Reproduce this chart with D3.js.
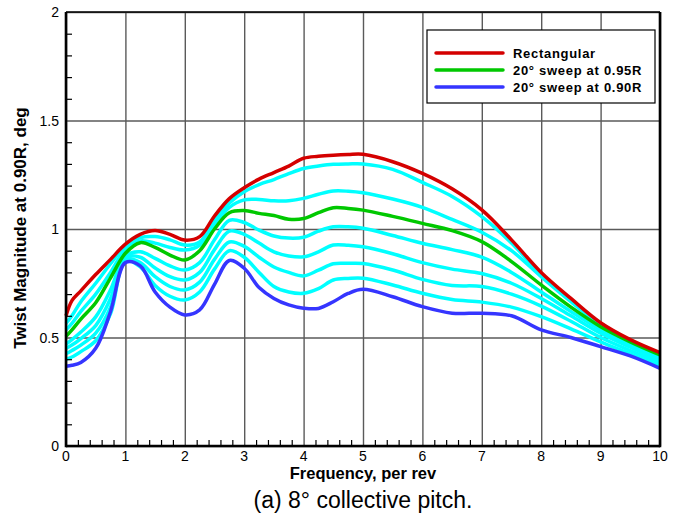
<!DOCTYPE html>
<html>
<head>
<meta charset="utf-8">
<script src="https://cdn.jsdelivr.net/npm/d3@7"></script>
<style>
  body { margin: 0; background: #fff; }
  text { font-family: Arial, "Liberation Sans", sans-serif; }
</style>
</head>
<body>
<div id="chart"></div>
<script>
var svgWidth = 681;
var svgHeight = 520;

var margin = {
    top: 12,
    right: 21,
    bottom: 74,
    left: 66
};

var width = svgWidth - margin.left - margin.right;
var height = svgHeight - margin.top - margin.bottom;

// frequency samples, per rev
var freq = [0, 0.1, 0.25, 0.5, 0.75, 1, 1.25, 1.5, 1.75, 2, 2.25, 2.5, 2.75, 3, 3.25, 3.5,
    3.75, 4, 4.25, 4.5, 4.75, 5, 5.5, 6, 6.5, 7, 7.5, 8, 8.5, 9, 9.5, 10];

// twist magnitude, deg
var rectangular = [0.60, 0.67, 0.715, 0.79, 0.86, 0.93, 0.975, 0.993, 0.975, 0.949, 0.965, 1.06, 1.14, 1.19, 1.23, 1.26,
    1.29, 1.326, 1.335, 1.34, 1.343, 1.344, 1.31, 1.256, 1.185, 1.088, 0.95, 0.80, 0.68, 0.568, 0.49, 0.43];
var sweep95 = [0.505, 0.535, 0.585, 0.66, 0.775, 0.888, 0.937, 0.915, 0.88, 0.857, 0.90, 1.00, 1.075, 1.085, 1.072, 1.062,
    1.045, 1.048, 1.075, 1.098, 1.095, 1.087, 1.058, 1.026, 0.993, 0.942, 0.85, 0.742, 0.64, 0.55, 0.48, 0.42];
var sweep90 = [0.368, 0.372, 0.385, 0.45, 0.62, 0.845, 0.83, 0.71, 0.64, 0.604, 0.627, 0.745, 0.855, 0.819, 0.73, 0.68,
    0.65, 0.635, 0.634, 0.665, 0.703, 0.722, 0.688, 0.642, 0.612, 0.612, 0.60, 0.535, 0.50, 0.458, 0.415, 0.358];

// intermediate cases (cyan), top to bottom
var cyan1 = [0.565, 0.60, 0.665, 0.75, 0.84, 0.922, 0.96, 0.965, 0.95, 0.926, 0.94, 1.04, 1.12, 1.172, 1.205, 1.228,
    1.255, 1.279, 1.29, 1.298, 1.30, 1.30, 1.275, 1.215, 1.15, 1.057, 0.935, 0.79, 0.67, 0.565, 0.485, 0.425];
var cyan2 = [0.535, 0.565, 0.62, 0.70, 0.80, 0.905, 0.945, 0.935, 0.915, 0.903, 0.925, 1.02, 1.10, 1.134, 1.136, 1.13,
    1.13, 1.141, 1.16, 1.175, 1.174, 1.167, 1.138, 1.10, 1.044, 0.985, 0.90, 0.78, 0.665, 0.56, 0.48, 0.42];
var cyan3 = [0.47, 0.49, 0.525, 0.595, 0.72, 0.875, 0.895, 0.865, 0.83, 0.811, 0.845, 0.95, 1.04, 1.03, 0.995, 0.968,
    0.958, 0.962, 0.99, 1.01, 1.01, 1.003, 0.97, 0.934, 0.905, 0.87, 0.80, 0.71, 0.62, 0.535, 0.465, 0.41];
var cyan4 = [0.45, 0.465, 0.495, 0.555, 0.68, 0.868, 0.87, 0.82, 0.78, 0.765, 0.80, 0.905, 0.99, 0.975, 0.935, 0.895,
    0.876, 0.872, 0.895, 0.926, 0.925, 0.918, 0.886, 0.845, 0.815, 0.795, 0.75, 0.68, 0.60, 0.52, 0.455, 0.395];
var cyan5 = [0.425, 0.44, 0.465, 0.52, 0.64, 0.86, 0.845, 0.78, 0.735, 0.719, 0.755, 0.86, 0.94, 0.92, 0.87, 0.825,
    0.80, 0.784, 0.81, 0.84, 0.842, 0.841, 0.811, 0.768, 0.74, 0.735, 0.70, 0.645, 0.575, 0.50, 0.44, 0.385];
var cyan6 = [0.40, 0.41, 0.435, 0.485, 0.61, 0.855, 0.825, 0.74, 0.69, 0.673, 0.71, 0.815, 0.90, 0.87, 0.80, 0.735,
    0.71, 0.704, 0.725, 0.765, 0.772, 0.773, 0.742, 0.704, 0.675, 0.663, 0.64, 0.596, 0.54, 0.48, 0.425, 0.37];

var xTicks = [0, 1, 2, 3, 4, 5, 6, 7, 8, 9, 10];
var yTicks = [0, 0.5, 1, 1.5, 2];

var legendNames = ["Rectangular", "20\u00b0 sweep at 0.95R", "20\u00b0 sweep at 0.90R"];
var legendColors = ["#d40000", "#00c800", "#3535ff"];

var svg = d3.select("#chart")
    .append("svg")
    .attr("width", svgWidth)
    .attr("height", svgHeight);

var chartGroup = svg.append("g")
    .attr("transform", `translate(${margin.left}, ${margin.top})`);

// scales
var xScale = d3.scaleLinear().domain([0, 10]).range([0, width]);
var yScale = d3.scaleLinear().domain([0, 2]).range([height, 0]);

// grid lines
var gridX = d3.axisBottom(xScale).tickValues(xTicks).tickSize(-height).tickFormat("");
chartGroup.append("g")
    .attr("transform", `translate(0, ${height})`)
    .call(gridX)
    .call(g => g.select(".domain").remove())
    .selectAll("line")
    .attr("stroke", "#5a5a5a")
    .attr("stroke-width", 1.4);

var gridY = d3.axisLeft(yScale).tickValues(yTicks).tickSize(-width).tickFormat("");
chartGroup.append("g")
    .call(gridY)
    .call(g => g.select(".domain").remove())
    .selectAll("line")
    .attr("stroke", "#5a5a5a")
    .attr("stroke-width", 1.4);

// curves
var line = d3.line()
    .x((d, i) => xScale(freq[i]))
    .y(d => yScale(d))
    .curve(d3.curveCatmullRom.alpha(0.5));

var cyanSeries = [cyan1, cyan2, cyan3, cyan4, cyan5, cyan6];
chartGroup.append("g")
    .selectAll("path")
    .data(cyanSeries)
    .enter()
    .append("path")
    .attr("d", d => line(d))
    .attr("fill", "none")
    .attr("stroke", "#00ffff")
    .attr("stroke-width", 3.5);

var mainSeries = [sweep90, sweep95, rectangular];
var mainColors = [legendColors[2], legendColors[1], legendColors[0]];
chartGroup.append("g")
    .selectAll("path")
    .data(mainSeries)
    .enter()
    .append("path")
    .attr("d", d => line(d))
    .attr("fill", "none")
    .attr("stroke", (d, i) => mainColors[i])
    .attr("stroke-width", 3.5);

// minor ticks, pointing inward
var xMinor = d3.range(0, 50).filter(i => i % 5 !== 0).map(i => i * 0.2);
chartGroup.append("g")
    .attr("transform", `translate(0, ${height})`)
    .call(d3.axisTop(xScale).tickValues(xMinor).tickSize(6).tickFormat(""))
    .call(g => g.select(".domain").remove())
    .selectAll("line")
    .attr("stroke", "#000")
    .attr("stroke-width", 1.2);

var yMinor = d3.range(0, 20).filter(i => i % 5 !== 0).map(i => i * 0.1);
chartGroup.append("g")
    .call(d3.axisRight(yScale).tickValues(yMinor).tickSize(6).tickFormat(""))
    .call(g => g.select(".domain").remove())
    .selectAll("line")
    .attr("stroke", "#000")
    .attr("stroke-width", 1.2);

// frame
chartGroup.append("line").attr("x1", 0).attr("x2", width).attr("y1", 0).attr("y2", 0)
    .attr("stroke", "#000").attr("stroke-width", 1.6);
chartGroup.append("line").attr("x1", 0).attr("x2", width).attr("y1", height).attr("y2", height)
    .attr("stroke", "#000").attr("stroke-width", 2.6);
chartGroup.append("line").attr("x1", 0).attr("x2", 0).attr("y1", 0).attr("y2", height + 1.3)
    .attr("stroke", "#000").attr("stroke-width", 2.6);
chartGroup.append("line").attr("x1", width).attr("x2", width).attr("y1", 0).attr("y2", height + 1.3)
    .attr("stroke", "#000").attr("stroke-width", 2.6);

// tick labels
chartGroup.append("g")
    .selectAll("text")
    .data(xTicks)
    .enter()
    .append("text")
    .attr("x", d => xScale(d))
    .attr("y", height + 15)
    .attr("text-anchor", "middle")
    .attr("font-size", "14px")
    .text(d => d);

chartGroup.append("g")
    .selectAll("text")
    .data(yTicks)
    .enter()
    .append("text")
    .attr("x", -7)
    .attr("y", d => yScale(d) + 5)
    .attr("text-anchor", "end")
    .attr("font-size", "14px")
    .text(d => d);

// axis titles
chartGroup.append("text")
    .attr("x", width / 2)
    .attr("y", height + 33)
    .attr("text-anchor", "middle")
    .attr("font-size", "16.5px")
    .attr("font-weight", "bold")
    .text("Frequency, per rev");

chartGroup.append("text")
    .attr("transform", "rotate(-90)")
    .attr("x", -height / 2 + 1)
    .attr("y", -40)
    .attr("text-anchor", "middle")
    .attr("font-size", "17px")
    .attr("font-weight", "bold")
    .text("Twist Magnitude at 0.90R, deg");

// caption
svg.append("text")
    .attr("x", margin.left + width / 2)
    .attr("y", 508)
    .attr("text-anchor", "middle")
    .attr("font-size", "23px")
    .text("(a) 8\u00b0 collective pitch.");

// legend
var legend = svg.append("g").attr("transform", "translate(427, 30)");
legend.append("rect")
    .attr("width", 228)
    .attr("height", 73)
    .attr("fill", "#fff")
    .attr("stroke", "#000")
    .attr("stroke-width", 1.2);

var rows = legend.selectAll("g.row")
    .data(legendNames)
    .enter()
    .append("g")
    .attr("class", "row")
    .attr("transform", (d, i) => `translate(0, ${23 + i * 17})`);

rows.append("line")
    .attr("x1", 9)
    .attr("x2", 76)
    .attr("stroke", (d, i) => legendColors[i])
    .attr("stroke-width", 3.5)
    .attr("stroke-linecap", "round");

rows.append("text")
    .attr("x", 86)
    .attr("y", 4.5)
    .attr("font-size", "13px")
    .attr("letter-spacing", "0.7px")
    .attr("font-weight", "bold")
    .text(d => d);
</script>
</body>
</html>
